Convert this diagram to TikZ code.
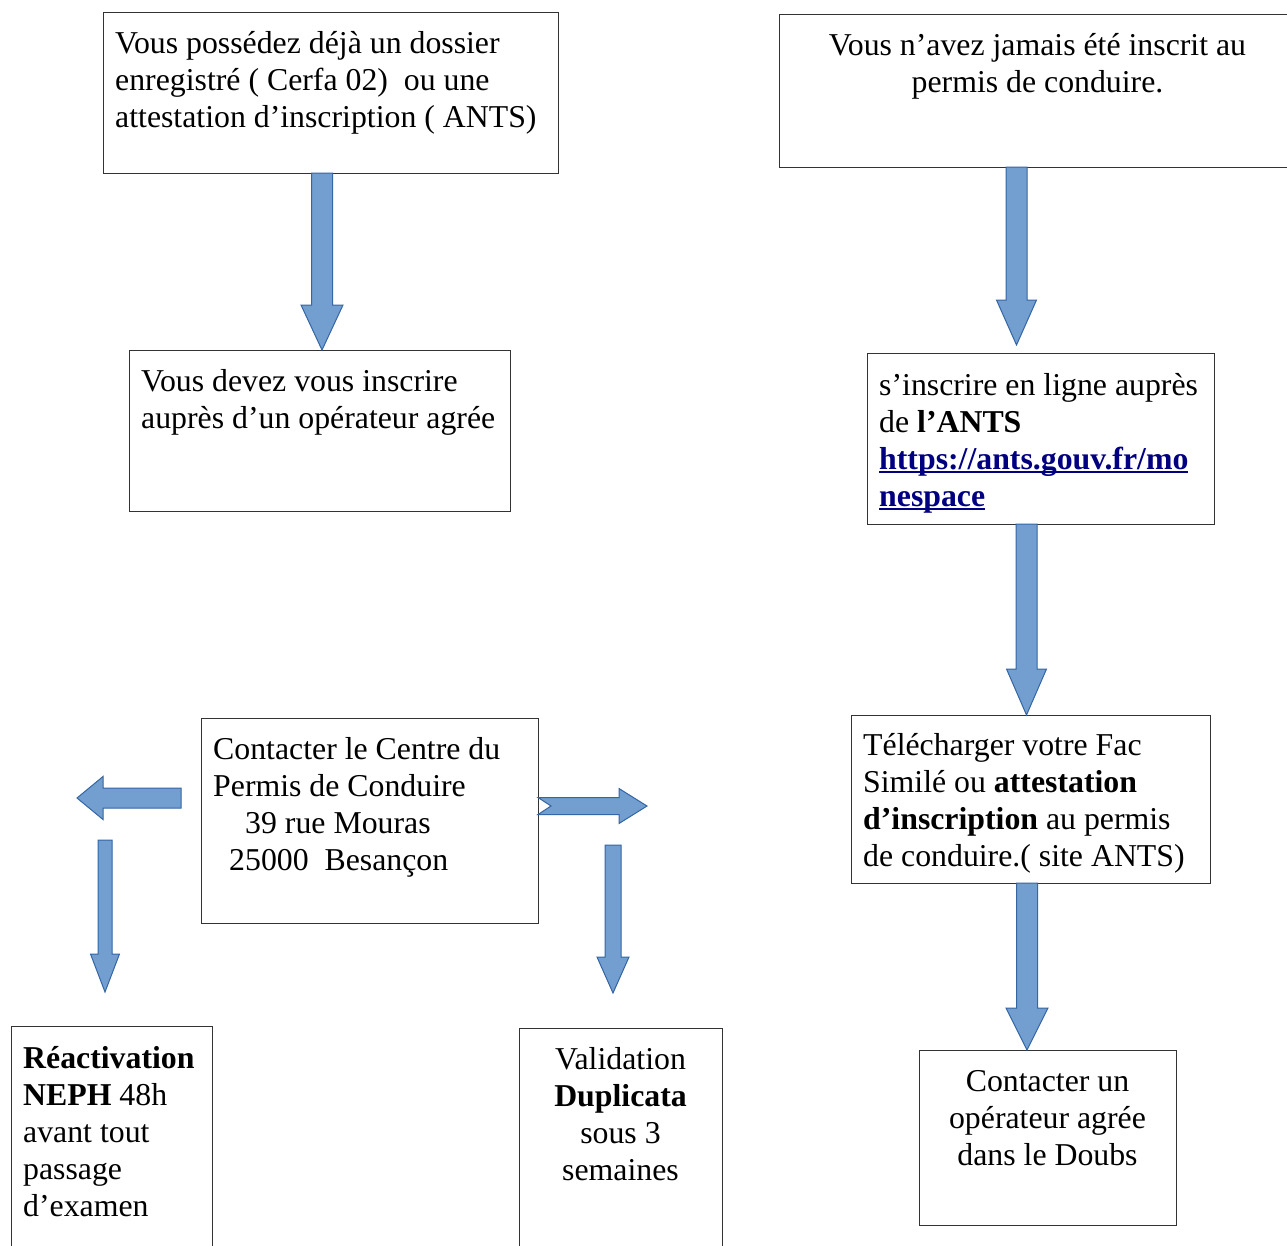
\documentclass[tikz,border=0pt]{standalone}
\usepackage{fontspec}
\setmainfont{Liberation Serif}
\usepackage{xcolor}
\usetikzlibrary{positioning,calc}
\definecolor{flowfill}{HTML}{729FCF}
\definecolor{flowline}{HTML}{3465A4}
\definecolor{linkblue}{HTML}{000080}

% block arrow pointing down: start, tip, half shaft, half head, head length
\newcommand{\blockdown}[5]{%
  \filldraw[blockarr] let \p1=#1, \p2=#2 in
    (\x1-#3,\y1) -- (\x1+#3,\y1) -- (\x1+#3,\y2+#5) -- (\x1+#4,\y2+#5)
    -- (\x1,\y2) -- (\x1-#4,\y2+#5) -- (\x1-#3,\y2+#5) -- cycle;}
% block arrow sideways: start, tip, half shaft, half head, head length, notch
\newcommand{\blockside}[6]{%
  \filldraw[blockarr] let \p1=#1, \p2=#2,
    \n1={\x2-sign(\x2-\x1)*#5}, \n2={\x1+sign(\x2-\x1)*#6} in
    (\x1,\y1+#3) -- ({\n1*1pt},\y1+#3) -- ({\n1*1pt},\y1+#4) -- (\x2,\y1)
    -- ({\n1*1pt},\y1-#4) -- ({\n1*1pt},\y1-#3) -- (\x1,\y1-#3)
    -- ({\n2*1pt},\y1) -- cycle;}
% underlined link text
\newsavebox{\linkbox}
\newcommand{\antslink}[1]{\textcolor{linkblue}{\sbox{\linkbox}{\textbf{#1}}%
  \rlap{\rule[-4pt]{\wd\linkbox}{2pt}}\usebox{\linkbox}}}

\begin{document}
\begin{tikzpicture}[
  x=1pt, y=-1pt,
  every node/.style={font=\fontsize{31.8}{37}\selectfont},
  box/.style={rectangle, draw=black!80, line width=1pt, fill=white,
    anchor=north west, inner sep=0pt, outer sep=0pt},
  txt/.style={inner sep=0pt, align=left},
  ctxt/.style={inner sep=0pt, align=center},
  blockarr/.style={fill=flowfill, draw=flowline, line width=1pt},
]
\useasboundingbox (0,0) rectangle (1287,1245);

% left column
\node[box, minimum width=455pt, minimum height=161pt] (dossier) at (103,12) {};
\node[txt, below right=15pt and 12pt of dossier.north west]
  {\strut Vous possédez déjà un dossier\\enregistré ( Cerfa 02)~ ou une\\attestation d’inscription ( ANTS)};

\node[box, minimum width=381pt, minimum height=161pt] (inscrire) at (129,350) {};
\node[txt, below right=15pt and 12pt of inscrire.north west]
  {\strut Vous devez vous inscrire\\auprès d’un opérateur agrée};

\node[box, minimum width=337pt, minimum height=205pt] (centre) at (201,718) {};
\node[txt, below right=15pt and 12pt of centre.north west]
  {\strut Contacter le Centre du\\Permis de Conduire\\\hspace*{32pt}39 rue Mouras\\\hspace*{16pt}25000~ Besançon};

\node[box, minimum width=201pt, minimum height=260pt] (reactivation) at (11,1026) {};
\node[txt, below right=16pt and 12pt of reactivation.north west]
  {\strut\textbf{Réactivation}\\\textbf{NEPH} 48h\\avant tout\\passage\\d’examen};

\node[box, minimum width=203pt, minimum height=260pt] (validation) at (519,1028) {};
\node[ctxt, below=15pt of validation.north]
  {\strut Validation\\\textbf{Duplicata}\\sous 3\\semaines};

% right column
\node[box, minimum width=511pt, minimum height=153pt] (jamais) at (779,14) {};
\node[ctxt, below=15pt of jamais.north, xshift=3pt]
  {\strut Vous n’avez jamais été inscrit au\\permis de conduire.};

\node[box, minimum width=347pt, minimum height=171pt] (ants) at (867,353) {};
\node[txt, below right=16pt and 12pt of ants.north west]
  {\strut s’inscrire en ligne auprès\\de \textbf{l’ANTS}\\
   \antslink{https://ants.gouv.fr/mo}\\\antslink{nespace}};

\node[box, minimum width=359pt, minimum height=168pt] (telecharger) at (851,715) {};
\node[txt, below right=14pt and 12pt of telecharger.north west]
  {\strut Télécharger votre Fac\\Similé ou \textbf{attestation}\\\textbf{d’inscription} au permis\\de conduire.( site ANTS)};

\node[box, minimum width=257pt, minimum height=175pt] (operateur) at (919,1050) {};
\node[ctxt, below=15pt of operateur.north]
  {\strut Contacter un\\opérateur agrée\\dans le Doubs};

% free ends
\coordinate (lend) at (77,798);
\coordinate (lstart) at (181,798);
\coordinate (rend) at (647,806);
\coordinate (dlstart) at (105,840);
\coordinate (dlend) at (105,992);
\coordinate (drstart) at (613,845);
\coordinate (drend) at (613,993);

% arrows
\blockdown{([xshift=-8.5pt]dossier.south)}{(inscrire.north)}{10.5pt}{21pt}{45pt}
\blockdown{([xshift=-18pt]jamais.south)}{([yshift=8pt]ants.north)}{10.5pt}{20pt}{45pt}
\blockdown{([xshift=-14pt]ants.south)}{(telecharger.north)}{10.5pt}{20pt}{46pt}
\blockdown{([xshift=-3.5pt]telecharger.south)}{(operateur.north)}{10.5pt}{21pt}{42pt}
\blockside{(lstart)}{(lend)}{10pt}{21.5pt}{26}{0}
\blockside{([yshift=14.5pt]centre.east)}{(rend)}{8.5pt}{17.5pt}{28}{13}
\blockdown{(dlstart)}{(dlend)}{7pt}{14.5pt}{38pt}
\blockdown{(drstart)}{(drend)}{8pt}{16pt}{36pt}
\end{tikzpicture}
\end{document}
